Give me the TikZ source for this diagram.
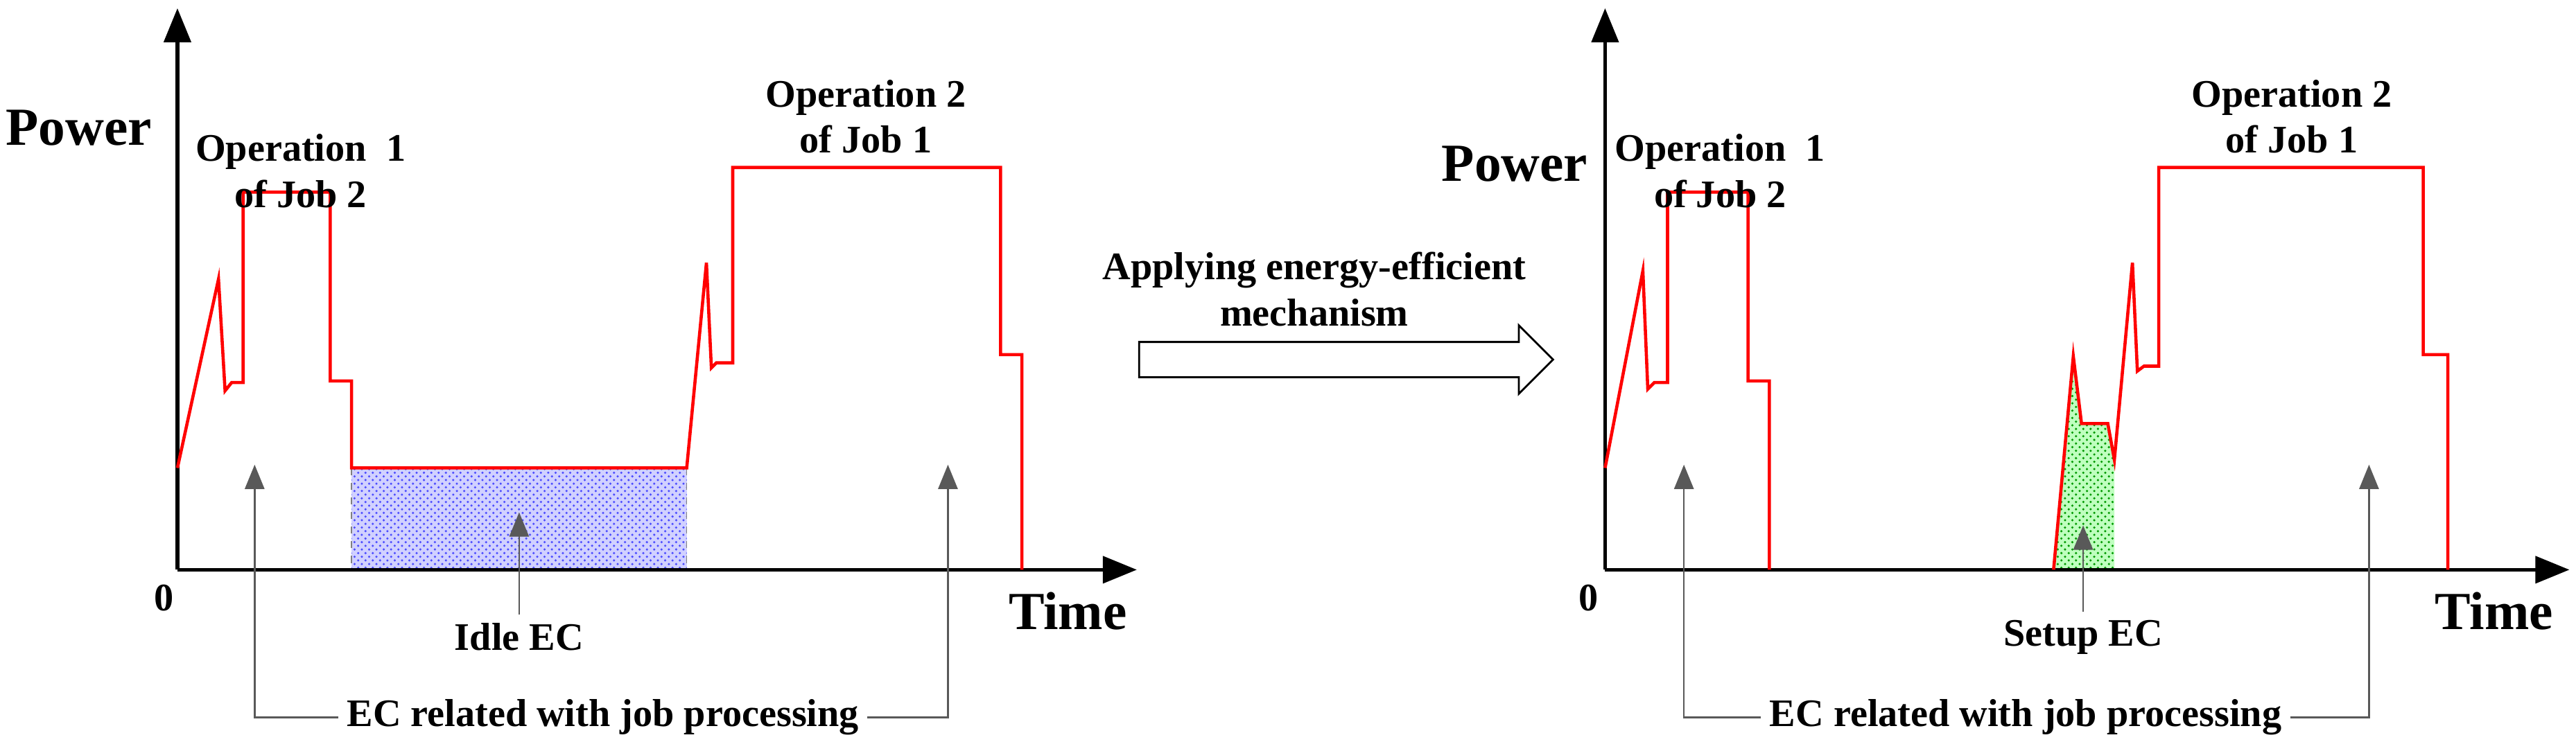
\documentclass[tikz,border=0pt]{standalone}
\usepackage{fontspec}
\setmainfont{Liberation Serif}
\usetikzlibrary{patterns,arrows.meta,shapes.arrows}
\begin{document}
\begin{tikzpicture}[x=0.0237cm,y=-0.0237cm,
  ax/.style={line width=1.6pt,-{Triangle[length=14pt,width=11pt]}},
  pw/.style={red,line width=1.3pt,line join=miter},
  lead/.style={gray!70!black,line width=0.7pt,-{Triangle[length=10pt,width=8pt]}},
  big/.style={font=\fontsize{22}{24}\selectfont\bfseries},
  lab/.style={font=\fontsize{16}{19}\selectfont\bfseries,align=center},
]
\useasboundingbox (0,0) rectangle (1568,457);
% ---------- left chart
\coordinate (Lo) at (108,347);
\coordinate (Ly) at (108,5);
\coordinate (Lx) at (692,347);
\fill[blue!18] (214,285) rectangle (418,347);
\fill[pattern=crosshatch dots,pattern color=blue!70] (214,285) rectangle (418,347);
\draw[dashed,gray] (214,285)--(214,347) (418,285)--(418,347);
\draw[ax] (Lo)--(Ly);
\draw[ax] (Lo)--(Lx);
\draw[pw] (108,285)--(133,170)--(137,238)--(141,233)--(148,233)--(148,117)--(201,117)--(201,232)--(214,232)--(214,285)--(418,285)--(430,160)--(433,224)--(436,221)--(446,221)--(446,102)--(609,102)--(609,216)--(622,216)--(622,347);
\node[big] (Lp) at (48,78) {Power};
\node[big] (Lt) at (650,372) {Time};
\node[lab] (L0) at (100,364) {0};
\node[lab] (Lop1) at (183,104) {Operation\ \ 1\\of Job 2};
\node[lab] (Lop2) at (527,71) {Operation 2\\of Job 1};
\node[lab] (Lidle) at (316,388) {Idle EC};
\node[lab] (Lec) at (367,437) {EC related with job processing};
\coordinate (La1) at (155,283);
\coordinate (La2) at (577,283);
\coordinate (La3) at (316,312);
\draw[lead] (Lec.west) -| (La1);
\draw[lead] (Lec.east) -| (La2);
\draw[lead] (Lidle.north) -- (La3);
% ---------- middle arrow
\node[single arrow,draw,line width=0.8pt,fill=white,minimum height=5.97cm,minimum width=0.95cm,inner xsep=0pt,inner ysep=0.24cm,single arrow head extend=0.24cm] (Arr) at (814,219) {};
\node[lab] (Atxt) at (800,176) {Applying energy-efficient\\mechanism};
% ---------- right chart
\coordinate (Ro) at (977,347);
\coordinate (Ry) at (977,5);
\coordinate (Rx) at (1564,347);
\fill[green!25] (1250,347)--(1262,217)--(1267,258)--(1283,258)--(1287,283)--(1287,347)--cycle;
\fill[pattern=crosshatch dots,pattern color=green!60!black] (1250,347)--(1262,217)--(1267,258)--(1283,258)--(1287,283)--(1287,347)--cycle;
\draw[ax] (Ro)--(Ry);
\draw[ax] (Ro)--(Rx);
\draw[pw] (977,285)--(1000,165)--(1003,237)--(1007,233)--(1015,233)--(1015,117)--(1064,117)--(1064,232)--(1077,232)--(1077,347);
\draw[pw] (1250,347)--(1262,217)--(1267,258)--(1283,258)--(1287,280)--(1298,160)--(1301,226)--(1305,223)--(1314,223)--(1314,102)--(1475,102)--(1475,216)--(1490,216)--(1490,347);
\node[big] (Rp) at (922,100) {Power};
\node[big] (Rt) at (1518,372) {Time};
\node[lab] (R0) at (967,364) {0};
\node[lab] (Rop1) at (1047,104) {Operation\ \ 1\\of Job 2};
\node[lab] (Rop2) at (1395,71) {Operation 2\\of Job 1};
\node[lab] (Rset) at (1268,388) {Setup EC};
\node[lab] (Rec) at (1233,437) {EC related with job processing};
\coordinate (Ra1) at (1025,283);
\coordinate (Ra2) at (1442,283);
\coordinate (Ra3) at (1268,320);
\draw[lead] (Rec.west) -| (Ra1);
\draw[lead] (Rec.east) -| (Ra2);
\draw[lead] (Rset.north) -- (Ra3);
\end{tikzpicture}
\end{document}
